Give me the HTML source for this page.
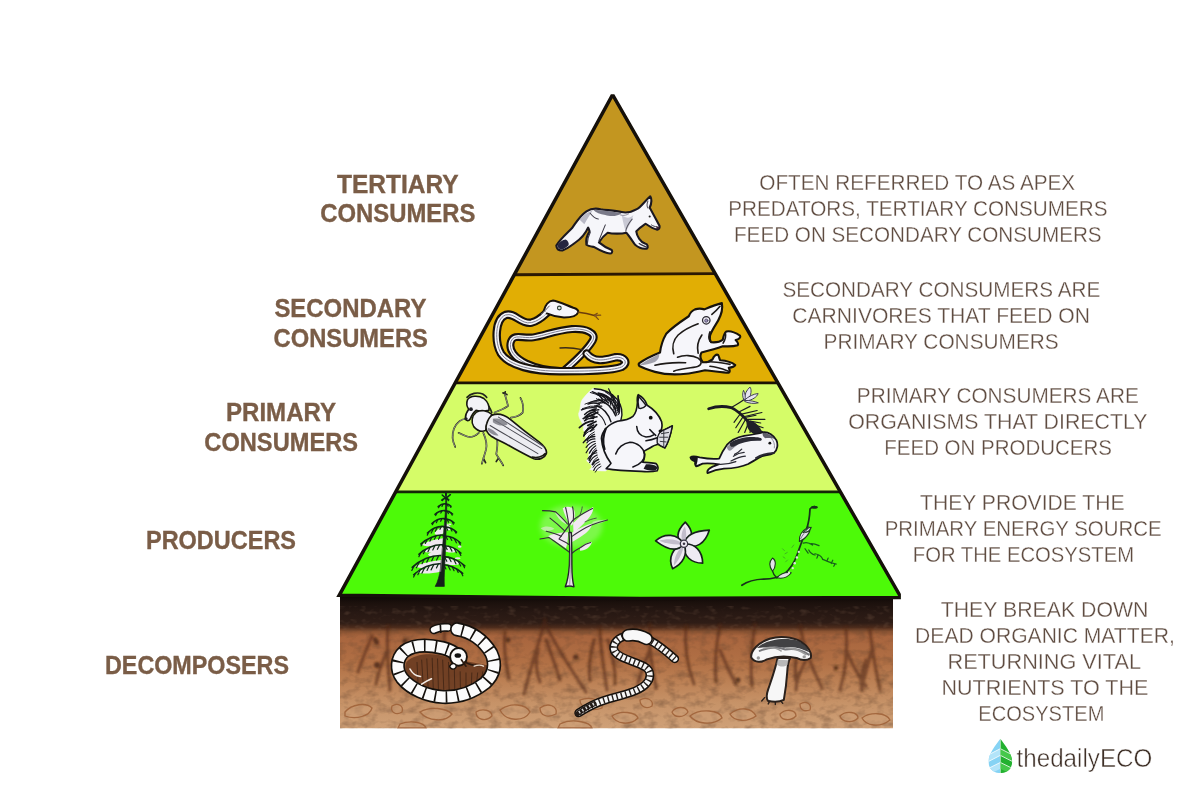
<!DOCTYPE html>
<html><head><meta charset="utf-8"><title>Ecological pyramid</title>
<style>
html,body{margin:0;padding:0;background:#fff;}
body{width:1200px;height:800px;overflow:hidden;font-family:"Liberation Sans",sans-serif;}
svg{display:block;}
</style></head><body>
<svg width="1200" height="800" viewBox="0 0 1200 800">
<defs>
<linearGradient id="soilg" x1="0" y1="0" x2="0" y2="1">
<stop offset="0" stop-color="#0e0806"/>
<stop offset="0.05" stop-color="#1c110d"/>
<stop offset="0.12" stop-color="#271813"/>
<stop offset="0.20" stop-color="#2f1d16"/>
<stop offset="0.235" stop-color="#4d2c1c"/>
<stop offset="0.265" stop-color="#8a5332"/>
<stop offset="0.30" stop-color="#a8653e"/>
<stop offset="0.50" stop-color="#b17045"/>
<stop offset="0.65" stop-color="#bc8155"/>
<stop offset="0.80" stop-color="#c69267"/>
<stop offset="1" stop-color="#cfa178"/>
</linearGradient>
<filter id="soilnoise" x="0" y="0" width="100%" height="100%">
<feTurbulence type="fractalNoise" baseFrequency="0.09 0.14" numOctaves="3" seed="7" result="n"/>
<feColorMatrix in="n" type="matrix" values="0 0 0 0 0.13  0 0 0 0 0.06  0 0 0 0 0.03  0 0 0 -2.2 1.25"/>
</filter>
<filter id="blur1"><feGaussianBlur stdDeviation="1.1"/></filter>
<clipPath id="soilclip"><rect x="340" y="594" width="553" height="134.5"/></clipPath>
<path id="leafshape" d="M160,55 C130,95 85,150 85,200 C85,245 118,272 160,272 C202,272 235,245 235,200 C235,150 190,95 160,55 Z"/>
<clipPath id="leafL"><rect x="60" y="40" width="98.5" height="250"/></clipPath>
<clipPath id="leafR"><rect x="161.5" y="40" width="100" height="250"/></clipPath>
<clipPath id="leafC"><use href="#leafshape"/></clipPath>
<filter id="blur8" x="-30%" y="-30%" width="160%" height="160%"><feGaussianBlur stdDeviation="22"/></filter>
<filter id="soilnoise2" x="0" y="0" width="100%" height="100%">
<feTurbulence type="fractalNoise" baseFrequency="0.12 0.2" numOctaves="2" seed="3" result="n"/>
<feColorMatrix in="n" type="matrix" values="0 0 0 0 0.28  0 0 0 0 0.16  0 0 0 0 0.10  0 0 0 -2.4 1.15"/>
</filter>
<clipPath id="pyrclip"><rect x="336.0" y="93.8" width="564.9" height="507"/></clipPath>

</defs>
<rect width="1200" height="800" fill="#ffffff"/>
<!-- soil block -->
<g id="soil" clip-path="url(#soilclip)">
<rect x="340" y="594" width="553" height="4" fill="#0e0806"/>
<rect x="340" y="596.5" width="553" height="132" fill="url(#soilg)"/>
<rect x="340" y="628" width="553" height="101" filter="url(#soilnoise)" opacity="0.42"/>
<rect x="340" y="606" width="553" height="24" filter="url(#soilnoise2)" opacity="0.28"/>
<!-- roots -->
<g fill="none" stroke="#4f2714" stroke-width="3.4" stroke-linecap="round" opacity="0.55" filter="url(#blur1)">
<path d="M388,626 C386,645 388,665 390,690"/>
<path d="M372,636 C366,650 362,660 358,672"/>
<path d="M505,632 C503,650 506,665 509,678"/>
<path d="M545,620 C540,640 532,662 524,694"/>
<path d="M545,622 C552,640 566,662 586,692"/>
<path d="M546,640 C552,655 556,668 560,680"/>
<path d="M538,650 C535,662 536,672 540,682"/>
<path d="M600,628 C600,648 604,668 607,690"/>
<path d="M608,640 C612,655 616,668 615,684"/>
<path d="M594,640 C590,655 588,668 590,680"/>
<path d="M650,624 C648,645 652,665 656,688"/>
<path d="M686,626 C684,648 688,668 694,684"/>
<path d="M720,625 C716,645 714,662 716,682"/>
<path d="M755,624 C752,645 750,668 752,686"/>
<path d="M800,626 C804,648 812,668 822,688"/>
<path d="M800,640 C796,655 794,668 796,680"/>
<path d="M846,628 C848,650 846,670 840,690"/>
<path d="M870,630 C872,652 876,670 880,690"/>
<path d="M866,660 C862,672 860,680 862,690"/>
<path d="M445,628 C443,640 446,652 450,660"/>
<path d="M846,650 C852,664 858,676 866,686"/>
<path d="M872,650 C868,664 864,676 862,688"/>
<path d="M806,660 C800,672 796,680 796,690"/>
<path d="M720,650 C726,664 730,674 736,684"/>
<path d="M650,650 C644,664 640,674 638,684"/>
<path d="M388,650 C382,662 378,672 376,684"/>
</g>
<g fill="#4a2716" opacity="0.8" filter="url(#blur1)">
<ellipse cx="376" cy="641" rx="2.5" ry="4" transform="rotate(-30 376 641)"/>
<circle cx="377" cy="665" r="3"/><circle cx="405" cy="641" r="2.5"/><circle cx="576" cy="657" r="2.5"/><circle cx="738" cy="680" r="2.5"/><circle cx="575" cy="657" r="2"/><circle cx="836" cy="668" r="2.2"/><circle cx="508" cy="640" r="2.5"/>
</g>
<!-- stones -->
<g fill="#cfa078" fill-opacity="0.5" stroke="#a0633a" stroke-width="1.3" opacity="0.9">
<path d="M345,712 C352,704 366,702 372,708 C370,716 356,720 345,716 Z"/>
<path d="M392,706 C398,702 404,706 402,712 C396,716 390,712 392,706 Z"/>
<path d="M420,712 C430,706 446,708 452,714 C446,722 428,722 420,712 Z"/>
<path d="M476,712 C482,708 492,710 492,716 C486,722 476,720 476,712 Z"/>
<path d="M500,710 C510,702 526,704 530,712 C524,722 506,722 500,710 Z"/>
<path d="M540,708 C548,702 558,706 556,714 C548,718 540,716 540,708 Z"/>
<path d="M580,700 C590,696 604,700 602,708 C592,712 580,708 580,700 Z"/>
<path d="M612,716 C620,710 636,712 638,718 C630,726 616,724 612,716 Z"/>
<path d="M640,700 C646,696 654,700 652,706 C646,710 640,706 640,700 Z"/>
<path d="M672,712 C676,706 686,706 688,712 C684,718 674,718 672,712 Z"/>
<path d="M690,716 C700,708 720,710 722,718 C712,726 696,724 690,716 Z"/>
<path d="M730,714 C740,706 752,708 756,716 C748,722 734,722 730,714 Z"/>
<path d="M780,714 C786,708 796,710 796,716 C790,722 780,720 780,714 Z"/>
<path d="M800,704 C806,700 812,704 810,710 C804,712 800,710 800,704 Z"/>
<path d="M840,716 C846,710 858,712 858,718 C852,724 842,722 840,716 Z"/>
<path d="M862,718 C870,712 886,712 890,720 C880,728 866,726 862,718 Z"/>
<path d="M400,724 C410,720 424,722 426,728 L398,728 Z"/>
<path d="M560,724 C572,718 590,722 592,728 L558,728 Z"/>
</g>
</g>

<!-- pyramid bands -->
<g id="pyramid">
<polygon points="611.9,96.0 613.3,96.0 715.2,273.6 514.3,274.7" fill="#c39620"/>
<polygon points="514.3,274.7 715.2,273.6 777.9,382.9 455.2,382.9" fill="#e1ae04"/>
<polygon points="455.2,382.9 777.9,382.9 840.5,491.9 395.7,491.9" fill="#d5fc68"/>
<polygon points="395.7,491.9 840.5,491.9 901.0,597.5 640.0,598.6 339.2,595.3" fill="#4dfa08"/>
<g stroke-width="2.9" stroke-linecap="butt" fill="none">
<line x1="514.3" y1="274.7" x2="715.2" y2="273.6" stroke="#2b1803"/>
<line x1="455.2" y1="382.9" x2="777.9" y2="382.9" stroke="#1c1204"/>
<line x1="395.7" y1="491.9" x2="840.5" y2="491.9" stroke="#132506"/>
</g>
<polygon points="611.9,96.0 613.3,96.0 901.0,597.5 640.0,598.6 339.2,595.3" fill="none" stroke="#15100a" stroke-width="3.5" stroke-linejoin="miter" stroke-miterlimit="10" clip-path="url(#pyrclip)"/>
</g>

<!-- fox : zoom coords origin (540,180) scale 1/8.571 -->
<g id="fox" transform="translate(540,180) scale(0.11667)" stroke-linejoin="round" stroke-linecap="round">
<path d="M140,562 C165,515 225,462 275,412 C305,372 335,312 398,268 C430,248 470,240 520,250 C570,258 650,262 700,275 C740,285 790,272 830,250 C865,232 890,190 945,140 C960,165 955,205 940,238 C965,280 995,340 1025,395 C1028,415 1015,430 1000,425 C975,420 935,395 905,375 C880,392 850,410 825,440 C830,480 860,530 900,545 C925,550 930,575 915,588 C890,592 850,585 815,555 C790,520 765,480 740,452 C700,462 620,462 580,452 C555,470 520,510 505,535 C540,565 590,590 615,600 C625,615 615,630 600,630 C560,628 500,595 465,575 C440,570 410,565 398,555 C392,520 405,470 425,440 C420,425 416,415 412,408 C392,455 350,505 298,540 C265,565 228,592 192,604 C162,605 142,588 140,562 Z" fill="#f6f6fa" stroke="#1b1820" stroke-width="18"/>
<!-- dark tail tip -->
<path d="M148,560 C165,530 195,512 220,510 C240,520 250,540 245,560 C225,580 205,592 188,596 C165,596 150,582 148,560 Z" fill="#25253f" stroke="none"/>
<!-- grey shading on back -->
<path d="M455,255 C540,258 620,268 700,285 C670,312 600,315 560,300 C515,292 480,282 455,255 Z" fill="#6d6d7c" stroke="none" opacity="0.9"/>
<path d="M340,340 C370,300 410,275 450,262 C430,300 400,340 380,380 Z" fill="#b9b9c6" stroke="none"/>
<path d="M700,300 C740,330 770,330 800,300 C790,350 760,400 735,440 C720,400 710,350 700,300 Z" fill="#c9c9d4" stroke="none"/>
<path d="M430,285 C450,310 470,330 500,335" fill="none" stroke="#44424e" stroke-width="9"/>
<path d="M560,385 C545,420 525,470 505,520" fill="none" stroke="#3a3844" stroke-width="9"/>
<path d="M790,335 C760,370 740,400 735,440" fill="none" stroke="#55535e" stroke-width="9"/>
<path d="M690,300 C720,310 745,300 760,290" fill="none" stroke="#8a8894" stroke-width="8"/>
<path d="M925,180 C915,205 915,225 925,240" fill="none" stroke="#55535e" stroke-width="9"/>
<path d="M955,385 C970,395 985,400 1000,400" fill="none" stroke="#3a3844" stroke-width="8"/>
<circle cx="940" cy="313" r="9" fill="#222"/>
<path d="M1000,400 C1010,395 1022,398 1022,410 C1015,425 1000,425 995,415 Z" fill="#3a2030" stroke="none"/>
<path d="M850,545 C870,560 895,565 912,575" fill="none" stroke="#3a3844" stroke-width="10"/>
<path d="M430,450 C415,480 405,520 405,550" fill="none" stroke="#3a3844" stroke-width="10"/>
</g>

<!-- snake : zoom origin (480,280) scale 1/7.5 -->
<g id="snake" transform="translate(480,280) scale(0.13333)" fill="none" stroke-linecap="round" stroke-linejoin="round">
<!-- inner loop (behind) -->
<path id="snB" d="M640,672 C700,620 800,530 845,455 C880,395 790,362 690,368 C570,378 480,418 400,430 C320,442 255,400 232,462 C212,525 262,585 345,625 C420,660 520,680 600,682"/>
<use href="#snB" stroke="#17110c" stroke-width="60"/>
<use href="#snB" stroke="#f4f4f8" stroke-width="28"/>
<use href="#snB" stroke="#77778a" stroke-width="7"/>
<!-- outer body -->
<path id="snA" d="M545,215 C500,232 470,300 385,320 C305,335 262,242 192,262 C112,292 108,465 158,552 C222,645 400,684 600,684 C800,684 990,682 1062,652 C1118,622 1082,572 1012,580 C940,598 860,625 800,552"/>
<use href="#snA" stroke="#17110c" stroke-width="64"/>
<use href="#snA" stroke="#f4f4f8" stroke-width="32"/>
<use href="#snA" stroke="#77778a" stroke-width="7"/>
<!-- head -->
<path d="M478,232 C488,190 515,156 548,153 C592,160 642,186 700,208 C726,216 740,229 736,242 C728,266 690,281 630,281 C580,278 532,264 500,250 C490,246 482,240 478,232 Z" fill="#f6f6fa" stroke="#17110c" stroke-width="15"/>
<path d="M492,236 C484,248 474,258 462,266" stroke="#f6f6fa" stroke-width="22" stroke-linecap="butt"/>
<path d="M520,195 C500,215 480,240 455,265" stroke="#55505e" stroke-width="7"/>
<circle cx="595" cy="210" r="14" fill="#dfe6e0" stroke="#2a3a30" stroke-width="8"/>
<path d="M738,242 C780,246 825,256 865,268" stroke="#6a3c0c" stroke-width="11"/>
<path d="M860,266 L905,264 M862,268 L888,296 M858,262 L880,250" stroke="#7a4a14" stroke-width="9"/>
<circle cx="868" cy="268" r="9" fill="#8a5a24"/>
<path d="M600,510 C650,505 710,510 765,522" stroke="#3a2a18" stroke-width="10"/>
</g>

<!-- frog : zoom origin (630,285) scale 1/8 -->
<g id="frog" transform="translate(630,285) scale(0.125)" stroke-linejoin="round" stroke-linecap="round">
<path d="M735,145 C742,180 735,230 705,285 C685,320 655,360 640,405 C636,425 640,445 648,458 C690,462 725,452 742,438 C748,410 752,385 770,372 C800,365 850,385 880,405 C890,420 870,435 845,440 C860,455 870,470 862,482 C830,492 780,492 742,490 C700,505 630,525 572,540 C560,560 560,590 582,618 C610,620 640,612 660,595 C670,570 690,550 705,560 C715,575 715,595 722,602 C760,605 810,615 842,640 C835,655 810,660 790,662 C800,680 800,695 790,702 C740,700 680,690 600,682 C540,695 480,708 450,710 C380,718 290,720 200,695 C150,680 100,662 75,648 C68,640 68,632 75,625 C110,600 190,560 240,540 C245,500 255,450 290,390 C330,345 410,290 470,250 C480,225 495,205 520,195 C550,185 580,190 595,195 C630,180 690,155 735,145 Z" fill="#f6f6fa" stroke="#17130c" stroke-width="17"/>
<!-- inner lines -->
<g fill="none" stroke="#1d1a18" stroke-width="13">
<path d="M350,550 C335,500 345,440 385,400 C430,360 490,330 545,310"/>
<path d="M380,578 C430,558 500,560 545,585 C580,610 575,640 540,652 C480,668 400,668 350,690"/>
<path d="M200,642 C280,622 360,618 445,622"/>
<path d="M545,545 C535,500 540,450 575,400"/>
<path d="M655,235 C680,215 700,195 720,170"/>
<path d="M640,375 C630,400 628,430 640,450"/>
<path d="M620,615 C680,610 740,625 800,635"/>
<path d="M640,650 C700,655 750,675 790,690"/>
<path d="M762,380 C770,410 760,440 745,465"/>
</g>
<circle cx="610" cy="282" r="30" fill="#ecebf3" stroke="#2a2830" stroke-width="10"/>
<circle cx="610" cy="285" r="13" fill="#9b90b8" stroke="#4a4560" stroke-width="6"/>
<path d="M75,640 C120,610 180,580 235,548 C235,580 225,600 200,615 C160,630 120,640 75,640 Z" fill="#8d8d9a" stroke="none" opacity="0.8"/>
</g>

<!-- beetle : zoom origin (440,385) scale 1/8.89 -->
<g id="beetle" transform="translate(440,385) scale(0.1125)" stroke-linejoin="round" stroke-linecap="round">
<!-- legs -->
<g fill="none" stroke="#23251e" stroke-width="15">
<path d="M235,300 C190,300 150,335 125,385 C105,440 110,500 135,550"/>
<path d="M345,425 C310,455 270,470 235,455 C205,445 185,435 165,425"/>
<path d="M385,425 C405,470 420,520 410,570 C400,610 385,650 372,700 M385,650 L405,690"/>
<path d="M508,495 C515,540 505,580 500,615 C520,650 545,680 562,715 M520,650 L500,680"/>
<path d="M485,245 C530,225 575,210 605,185 C595,150 585,110 575,78 M560,70 L595,85 M575,78 L580,60"/>
<path d="M630,290 C670,285 710,270 735,245 C745,200 740,160 715,115"/>
<path d="M240,110 C270,75 330,60 380,80 C400,92 410,100 415,110"/>
<path d="M330,110 C370,120 410,150 440,200 C450,215 455,230 460,245"/>
</g>
<g stroke="#dfe6c9" stroke-width="5" fill="none"><path d="M235,300 C190,300 150,335 125,385 C105,440 110,500 132,545"/><path d="M385,425 C405,470 420,520 410,570 C400,610 385,650 374,695"/><path d="M508,495 C515,540 505,580 500,615 C520,650 545,680 560,710"/><path d="M485,245 C530,225 575,210 605,185 C595,150 585,110 577,82"/><path d="M630,290 C670,285 710,270 735,245 C745,200 740,160 717,120"/><path d="M345,425 C310,455 270,470 235,455 C205,445 185,435 168,427"/></g>
<!-- head -->
<path d="M245,130 C270,95 340,90 390,120 C425,150 440,190 435,225 C400,235 360,235 320,225 C300,240 280,270 270,300 C255,325 235,322 225,300 C225,270 240,235 255,215 C238,190 235,155 245,130 Z" fill="#f3f3f7" stroke="#17170f" stroke-width="14"/>
<circle cx="275" cy="215" r="17" fill="#1c1c22"/>
<circle cx="232" cy="300" r="14" fill="#1c1c22"/>
<!-- thorax -->
<path d="M325,240 C360,220 420,222 462,262 C440,300 420,350 405,405 C370,420 330,405 300,370 C275,335 280,275 325,240 Z" fill="#f1f1f6" stroke="#17170f" stroke-width="14"/>
<!-- elytra -->
<path d="M462,268 C510,250 570,262 625,305 C690,360 790,440 880,505 C925,540 955,570 945,610 C930,650 880,668 835,655 C770,625 690,580 620,542 C560,510 500,482 455,455 C415,425 400,385 415,345 C425,310 440,285 462,268 Z" fill="#ededf2" stroke="#17170f" stroke-width="15"/>
<g fill="none" stroke="#4a4a52" stroke-width="9">
<path d="M480,310 C600,380 760,480 905,565"/>
<path d="M445,360 C560,430 720,520 870,610"/>
<path d="M520,285 C640,360 800,470 925,550"/>
</g>
<path d="M470,300 C520,290 580,310 600,350 C560,370 510,360 470,330 Z" fill="#77777f" opacity="0.8"/>
<path d="M425,380 C460,390 500,420 520,450 C480,450 440,430 425,400 Z" fill="#77777f" opacity="0.8"/>
<path d="M820,640 C860,650 910,640 935,610" fill="none" stroke="#17170f" stroke-width="14"/>
</g>

<!-- squirrel : zoom origin (570,385) scale 1/8.425 -->
<g id="squirrel" transform="translate(570,385) scale(0.1187)" stroke-linejoin="round" stroke-linecap="round">
<!-- tail -->
<path d="M195,30 C260,25 340,55 390,110 C430,160 450,230 430,300 C400,310 340,330 300,360 C265,410 255,480 280,545 C300,600 320,640 345,660 C330,700 310,720 300,725 C250,725 200,720 165,712 C200,690 180,670 140,640 C175,600 150,550 150,500 C120,460 140,400 110,380 C130,330 70,300 72,240 C95,200 80,150 105,120 C140,80 160,50 195,30 Z" fill="#f4f4f8" stroke="#f4f4f8" stroke-width="4"/>
<!-- tail hatching -->
<g fill="none" stroke="#15151a" stroke-width="11" stroke-linecap="round">
<path d="M261,685 Q227,699 213,734" stroke-width="8"/>
<path d="M254,666 Q215,681 200,720" stroke-width="10"/>
<path d="M247,646 Q209,658 194,693" stroke-width="8"/>
<path d="M240,627 Q206,638 191,671" stroke-width="14"/>
<path d="M233,607 Q198,626 184,668" stroke-width="8"/>
<path d="M229,590 Q187,608 165,653" stroke-width="10"/>
<path d="M226,571 Q177,580 150,623" stroke-width="10"/>
<path d="M223,551 Q183,579 162,633" stroke-width="14"/>
<path d="M220,531 Q190,554 174,597" stroke-width="8"/>
<path d="M217,512 Q182,532 163,575" stroke-width="10"/>
<path d="M214,493 Q165,516 136,571" stroke-width="10"/>
<path d="M212,474 Q164,483 136,526" stroke-width="10"/>
<path d="M210,454 Q167,455 142,487" stroke-width="10"/>
<path d="M209,434 Q148,438 112,486" stroke-width="12"/>
<path d="M207,415 Q167,429 144,470" stroke-width="10"/>
<path d="M205,395 Q160,414 134,462" stroke-width="8"/>
<path d="M203,376 Q147,385 114,434" stroke-width="8"/>
<path d="M201,356 Q151,362 122,402" stroke-width="14"/>
<path d="M199,337 Q147,364 117,426" stroke-width="14"/>
<path d="M224,334 l-49,54" stroke-width="14"/>
<path d="M197,317 Q147,349 118,413" stroke-width="8"/>
<path d="M195,302 Q131,308 79,359" stroke-width="14"/>
<path d="M219,307 l-70,34" stroke-width="14"/>
<path d="M199,282 Q156,275 122,302" stroke-width="12"/>
<path d="M203,263 Q152,252 111,283" stroke-width="14"/>
<path d="M227,268 l-55,12" stroke-width="14"/>
<path d="M207,243 Q164,252 129,289" stroke-width="10"/>
<path d="M211,224 Q166,231 129,269" stroke-width="14"/>
<path d="M235,228 l-49,27" stroke-width="14"/>
<path d="M214,204 Q164,209 123,249" stroke-width="12"/>
<path d="M223,194 Q164,182 97,210" stroke-width="12"/>
<path d="M243,209 l-75,9" stroke-width="12"/>
<path d="M235,179 Q173,168 104,199" stroke-width="8"/>
<path d="M247,163 Q204,142 151,161" stroke-width="12"/>
<path d="M267,178 l-58,-1" stroke-width="12"/>
<path d="M258,147 Q201,126 126,161" stroke-width="8"/>
<path d="M270,132 Q227,117 167,148" stroke-width="10"/>
<path d="M290,147 l-62,10" stroke-width="10"/>
<path d="M275,133 Q262,82 187,56" stroke-width="12"/>
<path d="M291,131 Q263,85 171,63" stroke-width="8"/>
<path d="M294,156 l-72,-41" stroke-width="8"/>
<path d="M306,129 Q297,96 238,80" stroke-width="14"/>
<path d="M322,127 Q316,96 260,81" stroke-width="12"/>
<path d="M325,152 l-37,-28" stroke-width="12"/>
<path d="M338,125 Q323,85 237,68" stroke-width="14"/>
<path d="M338,129 Q361,110 336,56" stroke-width="8"/>
<path d="M320,147 l-1,-44" stroke-width="8"/>
<path d="M350,141 Q367,108 325,32" stroke-width="10"/>
<path d="M361,153 Q379,133 350,81" stroke-width="10"/>
<path d="M344,170 l-7,-43" stroke-width="10"/>
<path d="M373,164 Q394,143 359,80" stroke-width="8"/>
<path d="M385,176 Q396,157 365,105" stroke-width="8"/>
<path d="M367,194 l-12,-43" stroke-width="8"/>
<path d="M389,184 Q411,168 405,92" stroke-width="14"/>
<path d="M394,200 Q416,189 411,118" stroke-width="10"/>
<path d="M370,207 l11,-49" stroke-width="10"/>
<path d="M398,215 Q418,204 412,135" stroke-width="14"/>
<path d="M403,231 Q420,219 413,154" stroke-width="12"/>
<path d="M379,238 l6,-46" stroke-width="12"/>
<path d="M408,247 Q423,237 417,180" stroke-width="10"/>
</g>
<g fill="none" stroke="#15151a" stroke-width="12" stroke-linecap="round">
<path d="M205,32 C270,35 345,65 392,115 C432,165 448,235 428,300"/>
<path d="M255,75 C320,90 375,130 405,200"/>
<path d="M240,120 C300,140 350,180 385,260"/>
<path d="M225,175 C280,195 320,235 345,310"/>
<path d="M300,60 C345,85 385,125 410,175" stroke-width="9"/>
<path d="M215,230 C255,250 285,285 300,335" stroke-width="9"/>
<path d="M320,120 C355,150 385,200 395,255" stroke-width="9"/>
</g>
<!-- body -->
<path d="M345,660 C300,600 270,520 265,450 C270,390 320,330 400,305 C450,300 500,290 530,265 C555,240 565,200 568,150 C565,120 568,95 575,82 C610,100 640,140 650,170 C700,200 750,250 772,310 C778,340 775,370 762,392 C790,380 830,360 862,345 C850,410 830,480 800,530 C780,525 760,512 742,500 C725,505 705,510 690,520 C670,535 640,545 622,560 C632,590 632,620 612,650 C650,655 700,655 725,662 C745,680 745,710 735,722 C700,732 640,732 600,728 C500,725 400,722 305,705 C320,690 335,675 345,660 Z" fill="#f6f6fa" stroke="#15151a" stroke-width="14"/>
<g fill="none" stroke="#15151a" stroke-width="13">
<path d="M385,582 C400,530 450,490 505,482 C570,485 620,530 630,585 C628,630 590,670 530,690"/>
<path d="M562,350 C565,400 590,430 640,438 C670,438 690,430 705,420"/>
<path d="M672,375 C690,395 705,410 722,425"/>
<path d="M640,470 C680,465 710,455 735,445"/>
<path d="M300,370 C280,420 270,480 290,540" stroke-width="20"/>
</g>
<!-- ear -->
<path d="M578,95 C600,120 625,150 640,172 C620,195 595,200 580,195 C572,165 572,125 578,95 Z" fill="#e7e7ef" stroke="#15151a" stroke-width="12"/>
<circle cx="680" cy="275" r="16" fill="#111"/>
<!-- nut -->
<path d="M762,392 C795,378 830,360 862,345 C850,410 830,480 800,530 C775,520 750,505 735,490 C730,455 740,420 762,392 Z" fill="#dedee6" stroke="#15151a" stroke-width="11"/>
<path d="M770,410 L830,400 M755,440 L825,440 M760,475 L810,480 M790,385 L790,520" stroke="#33333c" stroke-width="8" fill="none"/>
<circle cx="760" cy="388" r="14" fill="#111"/>
<path d="M640,668 C680,668 715,672 735,690 C735,712 720,722 700,722 C670,722 640,715 620,705 Z" fill="#1c1c22"/>
</g>

<!-- bird : zoom origin (680,385) scale 1/8.425 -->
<g id="bird" transform="translate(680,385) scale(0.1187)" stroke-linejoin="round" stroke-linecap="round">
<!-- twig & needles -->
<g fill="none" stroke="#1a1a22">
<path d="M242,200 C300,180 380,178 430,190 C490,215 540,270 585,320 C620,355 660,385 700,405" stroke-width="24"/>
<path d="M440,185 C475,165 510,145 540,122" stroke-width="10"/>
<g stroke-width="10">
<path d="M500,225 L590,180"/><path d="M520,245 L650,215"/><path d="M545,265 L690,232"/><path d="M570,290 L715,290"/>
<path d="M510,240 L455,315"/><path d="M535,262 L470,360"/><path d="M555,285 L490,400"/><path d="M580,310 L545,400"/><path d="M600,330 L590,400"/><path d="M620,345 L640,380"/>
<path d="M560,270 L640,255"/><path d="M590,305 L680,320"/><path d="M610,330 L700,360"/>
</g>
</g>
<path d="M560,300 C600,290 650,320 680,370 C690,400 660,420 620,410 C580,395 555,350 560,300 Z" fill="#1f1f28"/>
<!-- flower -->
<g fill="#e8e6f2" stroke="#3a3850" stroke-width="8">
<path d="M540,122 C545,80 560,40 590,18 C605,40 600,80 580,120 Z"/>
<path d="M545,125 C580,95 620,75 658,72 C650,100 610,125 565,135 Z"/>
<path d="M550,130 C590,130 630,138 660,150 C625,160 580,155 548,140 Z"/>
<path d="M538,125 C525,100 525,70 535,45 C550,70 552,100 548,122 Z"/>
</g>
<!-- body -->
<path d="M88,610 C100,598 130,600 165,610 C220,620 290,625 330,620 C345,585 365,545 395,505 C430,465 480,440 540,428 C600,420 660,410 705,398 C745,395 790,425 812,465 C828,500 822,545 792,572 C760,590 720,592 690,600 C660,615 620,640 575,665 C520,690 440,702 370,705 C320,710 270,725 232,742 C225,725 240,705 275,688 C300,678 320,672 330,668 C290,662 230,660 190,662 C170,672 150,682 135,685 C125,670 125,655 130,645 C110,640 92,628 88,610 Z" fill="#f4f4f8" stroke="#15151a" stroke-width="15"/>
<!-- shading -->
<path d="M395,520 C440,480 500,455 560,448 C520,480 470,510 430,550 C415,560 395,545 395,520 Z" fill="#6a6a78" opacity="0.7"/>
<path d="M700,400 C740,405 775,425 800,455 C780,450 750,445 720,448 C700,440 690,420 700,400 Z" fill="#3a3a46" opacity="0.8"/>
<path d="M420,490 C480,450 560,435 640,440 C690,440 700,460 680,470 C600,465 520,480 450,520 C430,525 415,510 420,490 Z" fill="#2a2a34"/>
<g fill="none" stroke="#2a2a34" stroke-width="11">
<path d="M450,600 C480,580 510,570 540,568"/>
<path d="M430,640 C470,620 510,605 550,600"/>
<path d="M330,668 C380,670 430,660 470,645"/>
<path d="M520,540 C500,560 480,575 460,585"/>
<path d="M640,615 C680,590 730,575 790,572" stroke-width="16"/>
</g>
<circle cx="757" cy="490" r="12" fill="#111"/>
<path d="M90,610 C105,600 130,602 150,608 C150,630 145,660 135,684 C125,670 125,655 130,645 C110,640 95,628 90,610 Z" fill="#15151a"/>
<path d="M770,450 C790,470 800,500 795,530" fill="none" stroke="#8a8a98" stroke-width="8"/>
</g>

<!-- pine : zoom origin (400,490) scale 1/7.625 -->
<g id="pine" transform="translate(400,490) scale(0.13115)" stroke-linejoin="round" stroke-linecap="round">
<g fill="#efe8f0" stroke="none">
<path d="M333,280 C305,287 277,307 263,327 C268,345 298,350 333,327 Z"/>
<path d="M328,367 C264,374 200,394 168,414 C173,432 248,437 328,414 Z"/>
<path d="M325,415 C265,422 205,442 175,462 C180,480 250,485 325,462 Z"/>
<path d="M323,445 C279,452 235,472 213,492 C218,510 268,515 323,492 Z"/>
<path d="M317,533 C237,540 157,560 117,580 C122,598 217,603 317,580 Z"/>
<path d="M314,575 C240,582 166,602 129,622 C134,640 222,645 314,622 Z"/>
<path d="M336,245 C358,252 380,272 391,292 C386,310 363,315 336,292 Z"/>
<path d="M325,415 C369,422 413,442 435,462 C430,480 380,485 325,462 Z"/>
<path d="M319,510 C375,517 431,537 459,557 C454,575 389,580 319,557 Z"/>
</g>
<g fill="none" stroke="#0f2a18" stroke-width="12">
<path d="M349,65 C338,64 326,69 319,77"/>
<path d="M331,69 l-7,13" stroke-width="9"/>
<path d="M349,66 C357,65 366,70 372,75"/>
<path d="M363,69 l6,13" stroke-width="9"/>
<path d="M346,105 C327,104 305,114 291,127"/>
<path d="M329,107 l-9,18" stroke-width="9"/>
<path d="M302,119 l-8,16" stroke-width="9"/>
<path d="M346,107 C361,106 378,114 389,124"/>
<path d="M359,109 l8,15" stroke-width="9"/>
<path d="M380,118 l8,15" stroke-width="9"/>
<path d="M342,156 C316,155 286,168 267,186"/>
<path d="M320,159 l-9,17" stroke-width="9"/>
<path d="M282,176 l-10,19" stroke-width="9"/>
<path d="M342,159 C363,158 386,169 401,183"/>
<path d="M360,162 l9,18" stroke-width="9"/>
<path d="M389,174 l9,18" stroke-width="9"/>
<path d="M338,218 C305,216 267,233 243,256"/>
<path d="M319,219 l-9,19" stroke-width="9"/>
<path d="M287,229 l-10,20" stroke-width="9"/>
<path d="M256,246 l-9,19" stroke-width="9"/>
<path d="M338,222 C364,220 394,234 412,251"/>
<path d="M360,224 l10,21" stroke-width="9"/>
<path d="M397,241 l10,20" stroke-width="9"/>
<path d="M334,278 C290,275 240,298 209,328"/>
<path d="M315,279 l-10,21" stroke-width="9"/>
<path d="M284,286 l-15,29" stroke-width="9"/>
<path d="M253,299 l-15,29" stroke-width="9"/>
<path d="M221,318 l-13,26" stroke-width="9"/>
<path d="M334,282 C368,280 407,298 431,321"/>
<path d="M353,284 l11,23" stroke-width="9"/>
<path d="M386,294 l10,19" stroke-width="9"/>
<path d="M418,312 l9,18" stroke-width="9"/>
<path d="M329,344 C269,341 201,372 159,412"/>
<path d="M309,345 l-15,31" stroke-width="9"/>
<path d="M275,351 l-13,25" stroke-width="9"/>
<path d="M241,363 l-13,27" stroke-width="9"/>
<path d="M207,380 l-14,27" stroke-width="9"/>
<path d="M173,402 l-12,25" stroke-width="9"/>
<path d="M329,351 C375,348 428,372 462,404"/>
<path d="M349,352 l13,26" stroke-width="9"/>
<path d="M382,360 l13,25" stroke-width="9"/>
<path d="M415,374 l15,29" stroke-width="9"/>
<path d="M448,394 l13,26" stroke-width="9"/>
<path d="M324,418 C261,414 189,446 144,490"/>
<path d="M302,419 l-17,33" stroke-width="9"/>
<path d="M266,425 l-16,32" stroke-width="9"/>
<path d="M230,437 l-17,34" stroke-width="9"/>
<path d="M194,455 l-16,31" stroke-width="9"/>
<path d="M158,479 l-14,29" stroke-width="9"/>
<path d="M324,425 C373,422 429,447 464,481"/>
<path d="M345,426 l16,32" stroke-width="9"/>
<path d="M380,434 l16,32" stroke-width="9"/>
<path d="M415,448 l15,30" stroke-width="9"/>
<path d="M450,470 l14,29" stroke-width="9"/>
<path d="M318,500 C239,495 149,536 93,590"/>
<path d="M296,500 l-17,34" stroke-width="9"/>
<path d="M258,506 l-16,33" stroke-width="9"/>
<path d="M221,516 l-17,34" stroke-width="9"/>
<path d="M183,532 l-15,30" stroke-width="9"/>
<path d="M146,552 l-21,41" stroke-width="9"/>
<path d="M108,578 l-18,35" stroke-width="9"/>
<path d="M318,508 C380,505 450,536 494,579"/>
<path d="M339,509 l18,35" stroke-width="9"/>
<path d="M374,516 l15,30" stroke-width="9"/>
<path d="M409,527 l18,37" stroke-width="9"/>
<path d="M445,545 l18,35" stroke-width="9"/>
<path d="M480,568 l12,25" stroke-width="9"/>
<path d="M314,562 C241,558 157,596 104,646"/>
<path d="M293,563 l-15,31" stroke-width="9"/>
<path d="M258,568 l-21,41" stroke-width="9"/>
<path d="M223,578 l-17,35" stroke-width="9"/>
<path d="M188,592 l-21,42" stroke-width="9"/>
<path d="M153,612 l-17,34" stroke-width="9"/>
<path d="M118,635 l-14,29" stroke-width="9"/>
<path d="M314,571 C372,567 437,597 478,636"/>
<path d="M334,571 l16,31" stroke-width="9"/>
<path d="M367,577 l16,33" stroke-width="9"/>
<path d="M399,588 l13,27" stroke-width="9"/>
<path d="M432,604 l12,25" stroke-width="9"/>
<path d="M465,626 l14,28" stroke-width="9"/>
<path d="M346,60 L322,38 M352,62 L384,36 M350,40 L350,18"/>
</g>
<path d="M347,20 C352,100 345,200 335,300 C328,400 318,520 308,600 C302,650 288,700 268,735 L338,735 C336,690 338,640 340,600 C345,500 350,400 352,300 C357,200 358,100 353,20 Z" fill="#14201a" stroke="#14201a" stroke-width="5"/>
<path d="M322,440 C318,500 314,560 310,620" fill="none" stroke="#9a8a98" stroke-width="6"/>
<g fill="#e9dfe9"><ellipse cx="372" cy="465" rx="16" ry="9"/><ellipse cx="455" cy="432" rx="14" ry="8"/><ellipse cx="440" cy="520" rx="22" ry="8"/><ellipse cx="380" cy="262" rx="12" ry="7"/></g>
</g>

<!-- bare tree : zoom origin (530,495) scale 1/8 -->
<g id="tree" transform="translate(530,495) scale(0.125)" stroke-linejoin="round" stroke-linecap="round">
<!-- faint halo -->
<g fill="#e8f4e0" opacity="0.3" filter="url(#blur8)">
<ellipse cx="330" cy="250" rx="250" ry="170"/>
</g>
<!-- pale crown patches -->
<g fill="#f1e8f1" stroke="none">
<path d="M262,105 C300,85 340,95 355,125 C365,170 352,215 335,245 C305,220 280,170 262,105 Z"/>
<path d="M345,225 C395,175 450,125 505,95 C512,130 482,175 442,215 C410,248 380,275 348,305 Z"/>
<path d="M338,300 C390,268 452,238 500,228 C485,282 430,325 338,375 Z"/>
<path d="M145,328 C200,305 262,296 305,298 C305,340 298,392 288,425 C240,395 190,362 145,328 Z"/>
<path d="M400,425 C428,392 465,376 495,376 C484,418 446,445 400,445 Z"/>
<path d="M200,140 C235,150 270,190 295,235 C260,225 225,190 200,140 Z" opacity="0.7"/>
<path d="M85,265 C120,245 165,248 195,270 C160,292 118,296 85,265 Z" opacity="0.55"/>
<path d="M500,215 C540,200 585,195 620,200 C585,222 540,235 500,232 Z" opacity="0.55"/>
</g>
<!-- branches -->
<g fill="none" stroke="#352c3c" stroke-width="9">
<path d="M318,460 C260,420 200,370 150,340 C125,345 100,350 80,352"/>
<path d="M318,400 C290,380 260,365 232,352 C262,310 300,262 340,205 C390,165 450,135 500,108"/>
<path d="M330,470 C360,445 385,430 405,420 C430,400 460,385 485,380"/>
<path d="M330,335 C380,300 440,262 492,240 C540,222 580,210 620,200"/>
<path d="M100,125 C140,125 175,128 205,135 C240,165 272,200 300,232"/>
<path d="M160,185 C200,215 240,250 275,285"/>
<path d="M318,300 C310,230 300,160 285,100"/>
<path d="M345,210 C350,170 350,130 340,95"/>
<path d="M130,290 C170,300 210,310 250,330"/>
<path d="M400,160 C410,135 415,115 418,95" stroke-width="6"/>
<path d="M440,215 C470,200 500,190 530,185" stroke-width="6"/>
</g>
<!-- trunk -->
<path d="M312,300 C318,380 320,470 315,560 C310,630 300,690 282,735 C300,727 330,727 352,735 C340,690 335,630 335,560 C335,470 335,380 330,300 Z" fill="#ece4ec" stroke="#231f2a" stroke-width="11"/>
<path d="M322,470 C324,550 322,640 318,720" fill="none" stroke="#8a8290" stroke-width="6"/>
</g>

<!-- flower : zoom origin (640,495) scale 1/5.4545 -->
<g id="flower" transform="translate(640,495) scale(0.18333)" stroke-linejoin="round" stroke-linecap="round">
<g fill="#efebf3" stroke="#15201a" stroke-width="9">
<path d="M240,268 C195,245 195,200 247,148 C292,195 295,240 240,268 Z"/>
<path d="M240,268 C250,215 300,195 378,192 C355,265 305,300 240,268 Z"/>
<path d="M240,268 C300,262 340,305 342,372 C280,372 235,335 240,268 Z"/>
<path d="M240,268 C262,325 235,375 178,402 C150,340 180,285 240,268 Z"/>
<path d="M240,268 C205,312 150,300 85,250 C135,205 205,210 240,268 Z"/>
</g>
<g fill="#b8b2c2" stroke="none" opacity="0.8">
<path d="M240,268 C220,240 222,205 245,170 C255,205 255,240 240,268 Z"/>
<path d="M240,268 C235,310 215,350 185,385 C185,340 205,300 240,268 Z"/>
<path d="M240,268 C200,275 150,268 105,250 C150,235 205,240 240,268 Z"/>
</g>
<circle cx="240" cy="266" r="20" fill="#efebf3" stroke="#3a3645" stroke-width="7"/>
<circle cx="240" cy="266" r="7" fill="#3a3645"/>
</g>

<!-- herb : zoom origin (735,495) scale 1/8 -->
<g id="herb" transform="translate(735,495) scale(0.125)" stroke-linejoin="round" stroke-linecap="round">
<path d="M55,722 C100,690 160,675 230,672 C290,672 340,668 390,635 C440,595 478,535 500,470 C520,410 545,345 570,280 C590,225 598,160 600,112 C612,95 635,90 655,98" fill="none" stroke="#17331a" stroke-width="14"/>
<path d="M300,608 C305,630 318,650 335,664" fill="none" stroke="#17331a" stroke-width="10"/>
<ellipse cx="635" cy="98" rx="24" ry="12" fill="#17331a"/>
<g fill="#e4e2ea" stroke="#1d3a20" stroke-width="9">
<path d="M300,610 C275,575 270,535 300,505 C330,520 330,575 300,610 Z"/>
<path d="M335,662 C365,630 410,615 450,622 C425,655 380,672 335,662 Z"/>
<path d="M515,372 C510,330 535,285 590,255 C615,275 585,340 515,372 Z"/>
<path d="M548,300 C560,280 585,262 610,258 C600,285 580,302 548,300 Z"/>
</g>
<path d="M525,350 C540,320 560,295 585,270" stroke="#6a6880" stroke-width="7" fill="none"/>
<g fill="#dfe6df" stroke="none"><circle cx="478" cy="545" r="10"/><circle cx="495" cy="500" r="10"/><circle cx="462" cy="585" r="9"/><circle cx="510" cy="455" r="9"/><circle cx="432" cy="620" r="9"/></g>
<g fill="none" stroke="#17601c" stroke-width="10">
<path d="M545,385 C570,375 600,385 620,400 M600,390 C625,385 650,395 672,405"/>
<path d="M590,440 C600,460 615,475 640,480 M560,430 L585,465"/>
<path d="M640,470 C670,475 690,490 700,510 M665,478 L655,505"/>
<path d="M700,515 C730,525 770,545 810,552 M735,530 L745,505 M770,548 L782,522 M800,552 L790,570"/>
</g>
<g fill="none" stroke="#3a9a2a" stroke-width="7" opacity="0.8">
<path d="M380,430 L395,445 M400,470 L418,460 M385,495 L400,505 M420,520 L405,535 M470,400 L455,420"/>
</g>
</g>

<!-- millipede : zoom origin (340,592) scale 1/4.2857 -->
<g id="millipede" transform="translate(340,592) scale(0.23333)" stroke-linejoin="round" stroke-linecap="butt" fill="none">
<!-- dark centre (legs) -->
<path d="M285,300 C320,262 400,258 460,280 C520,298 600,305 645,318 C648,372 595,418 520,432 C448,442 372,432 322,400 C285,372 272,332 285,300 Z" fill="#6a3b20" opacity="0.9"/>
<g stroke="#3a2012" stroke-width="4" opacity="0.8">
<path d="M330,300 L335,400 M350,290 L357,410 M372,285 L378,418 M395,282 L400,422 M418,285 L422,425 M440,290 L445,428 M465,300 L468,428 M490,330 L492,426 M515,340 L516,422 M540,345 L540,415 M565,345 L563,405 M590,345 L585,395 M612,340 L606,380"/>
</g>
<path id="mlA" d="M402,162 C420,152 440,150 462,152"/>
<path id="mlB" d="M502,160 C560,168 615,205 648,262 C670,310 662,352 622,390 C574,428 508,452 442,450 C374,446 306,418 266,370 C238,332 242,284 276,254 C316,224 382,226 440,240 C468,247 488,258 503,272"/>
<g stroke-linecap="round">
<use href="#mlA" stroke="#14100c" stroke-width="38"/><use href="#mlA" stroke="#fbfbfb" stroke-width="25"/>
<use href="#mlB" stroke="#14100c" stroke-width="61"/><use href="#mlB" stroke="#fbfbfb" stroke-width="47"/>
</g>
<use href="#mlB" stroke="#14100c" stroke-width="49" stroke-dasharray="7 41" stroke-dashoffset="-20"/>
<path d="M430,140 L432,176" stroke="#14100c" stroke-width="7"/>
<!-- head -->
<ellipse cx="508" cy="278" rx="36" ry="38" fill="#fbfbfb" stroke="#14100c" stroke-width="8"/>
<ellipse cx="505" cy="272" rx="14" ry="10" fill="#111"/>
<path d="M470,318 C480,300 500,305 498,322 C490,335 472,332 470,318 Z" fill="#fbfbfb" stroke="#14100c" stroke-width="6"/>
<path d="M535,300 C555,312 575,316 600,315 M520,290 L540,318" stroke="#2a1a10" stroke-width="7" stroke-linecap="round"/>
<path d="M575,318 C590,312 605,312 615,318" stroke="#e8d8c8" stroke-width="6" stroke-linecap="round"/>
<path d="M300,330 C310,350 325,360 345,362 M350,395 C365,385 378,378 392,372" stroke="#f4eee8" stroke-width="7" stroke-linecap="round"/>
</g>

<!-- worm : zoom origin (560,590) scale 1/3.529 -->
<g id="worm" transform="translate(560,590) scale(0.28333)" stroke-linejoin="round" fill="none">
<path id="wmA" d="M405,243 C385,225 350,195 318,178 C295,165 265,158 240,162 C205,165 182,190 192,215 C205,240 260,250 298,270 C325,285 322,315 300,335 C270,362 215,372 160,388 C120,400 90,418 66,434"/>
<g stroke-linecap="round">
<use href="#wmA" stroke="#15100c" stroke-width="31"/>
<use href="#wmA" stroke="#f6f6f6" stroke-width="20"/>
</g>
<use href="#wmA" stroke="#26201c" stroke-width="22" stroke-dasharray="5 11"/>
<!-- clitellum -->
<path d="M240,160 C262,156 288,162 305,172" stroke="#15100c" stroke-width="46" stroke-linecap="round"/>
<path d="M240,160 C262,156 288,162 305,172" stroke="#f8f8f8" stroke-width="35" stroke-linecap="round"/>
<!-- dark tail -->
<path d="M120,402 C98,412 80,424 62,436" stroke="#221a16" stroke-width="18" stroke-linecap="round"/>
<path d="M120,402 C98,412 80,424 66,433" stroke="#d8d8d8" stroke-width="10" stroke-dasharray="5 9"/>
</g>

<!-- mushroom : zoom origin (560,590) scale 1/3.529 -->
<g id="mushroom" transform="translate(560,590) scale(0.28333)" stroke-linejoin="round" stroke-linecap="round">
<path d="M768,240 C760,280 745,320 735,350 C728,370 728,385 735,392 C755,396 778,394 790,388 C795,360 800,320 802,290 C803,270 806,252 812,240 Z" fill="#f7f7f7" stroke="#2a211c" stroke-width="7"/>
<path d="M764,262 C774,272 792,273 804,264 L806,248 L768,246 Z" fill="#9c9c9c" opacity="0.7"/>
<path d="M722,380 L712,392 M740,392 L735,402 M760,394 L760,404 M780,392 L786,400" stroke="#2a211c" stroke-width="5" fill="none"/>
<path d="M675,238 C672,215 700,185 740,172 C775,162 820,165 850,182 C875,198 890,222 885,240 C870,250 850,248 835,240 C800,232 760,234 730,245 C712,256 688,258 675,238 Z" fill="#f7f7f7" stroke="#2a211c" stroke-width="7"/>
<path d="M695,205 C725,176 790,164 842,180 C862,190 874,205 880,220 C850,204 820,198 790,204 C760,196 728,202 695,205 Z" fill="#2e2e30" opacity="0.9"/>
<path d="M705,215 C740,200 770,200 795,210 C825,205 855,212 878,228" fill="none" stroke="#77777a" stroke-width="7"/>
<path d="M720,205 C745,200 765,205 780,215 M800,205 C825,205 850,215 868,228" stroke="#9a9a9a" stroke-width="6" fill="none"/>
<circle cx="700" cy="240" r="6" fill="#999"/><circle cx="862" cy="236" r="6" fill="#999"/>
</g>

<g font-family="'Liberation Sans', sans-serif" font-weight="bold" font-size="25.1" fill="#7a5d47" stroke="#7a5d47" stroke-width="0.35" opacity="0.999">
<text x="337.0" y="192.7" textLength="121.7" lengthAdjust="spacingAndGlyphs">TERTIARY</text>
<text x="320.3" y="222.4" textLength="155.1" lengthAdjust="spacingAndGlyphs">CONSUMERS</text>
<text x="274.4" y="317.4" textLength="152.1" lengthAdjust="spacingAndGlyphs">SECONDARY</text>
<text x="273.6" y="347.0" textLength="154.3" lengthAdjust="spacingAndGlyphs">CONSUMERS</text>
<text x="226.0" y="421.4" textLength="110.1" lengthAdjust="spacingAndGlyphs">PRIMARY</text>
<text x="204.3" y="451.1" textLength="153.8" lengthAdjust="spacingAndGlyphs">CONSUMERS</text>
<text x="146.0" y="549.0" textLength="150.0" lengthAdjust="spacingAndGlyphs">PRODUCERS</text>
<text x="105.0" y="674.2" textLength="184.0" lengthAdjust="spacingAndGlyphs">DECOMPOSERS</text>
</g>
<g font-family="'Liberation Sans', sans-serif" font-size="22.8" fill="#5f4c41" stroke="#ffffff" stroke-width="0.3" opacity="0.999">
<text x="759.3" y="190.2" textLength="315.9" lengthAdjust="spacingAndGlyphs">OFTEN REFERRED TO AS APEX</text>
<text x="728.3" y="216.0" textLength="379.2" lengthAdjust="spacingAndGlyphs">PREDATORS, TERTIARY CONSUMERS</text>
<text x="734.0" y="242.0" textLength="367.6" lengthAdjust="spacingAndGlyphs">FEED ON SECONDARY CONSUMERS</text>
<text x="782.4" y="296.6" textLength="317.8" lengthAdjust="spacingAndGlyphs">SECONDARY CONSUMERS ARE</text>
<text x="792.3" y="322.7" textLength="297.6" lengthAdjust="spacingAndGlyphs">CARNIVORES THAT FEED ON</text>
<text x="823.5" y="348.6" textLength="235.2" lengthAdjust="spacingAndGlyphs">PRIMARY CONSUMERS</text>
<text x="856.8" y="403.2" textLength="282.0" lengthAdjust="spacingAndGlyphs">PRIMARY CONSUMERS ARE</text>
<text x="848.2" y="429.2" textLength="299.2" lengthAdjust="spacingAndGlyphs">ORGANISMS THAT DIRECTLY</text>
<text x="884.3" y="455.1" textLength="227.6" lengthAdjust="spacingAndGlyphs">FEED ON PRODUCERS</text>
<text x="920.1" y="509.9" textLength="204.5" lengthAdjust="spacingAndGlyphs">THEY PROVIDE THE</text>
<text x="884.7" y="535.9" textLength="276.9" lengthAdjust="spacingAndGlyphs">PRIMARY ENERGY SOURCE</text>
<text x="912.8" y="562.2" textLength="221.3" lengthAdjust="spacingAndGlyphs">FOR THE ECOSYSTEM</text>
<text x="940.7" y="617.2" textLength="207.7" lengthAdjust="spacingAndGlyphs">THEY BREAK DOWN</text>
<text x="915.1" y="643.3" textLength="259.7" lengthAdjust="spacingAndGlyphs">DEAD ORGANIC MATTER,</text>
<text x="947.5" y="669.1" textLength="193.5" lengthAdjust="spacingAndGlyphs">RETURNING VITAL</text>
<text x="941.5" y="694.7" textLength="206.9" lengthAdjust="spacingAndGlyphs">NUTRIENTS TO THE</text>
<text x="978.3" y="720.8" textLength="126.1" lengthAdjust="spacingAndGlyphs">ECOSYSTEM</text>
</g>
<!-- logo -->
<g id="logo">
<g transform="translate(975,730) scale(0.15833)">
<g clip-path="url(#leafC)">
<g clip-path="url(#leafL)"><rect x="60" y="40" width="110" height="250" fill="#86d3f4"/>
<path d="M60,170 L160,118 L160,160 L60,212 Z" fill="#b2e4f9"/>
<path d="M60,255 L160,205 L160,245 L60,295 Z" fill="#b2e4f9"/>
<g stroke="#fff" stroke-width="5"><path d="M60,170 L160,118 M60,212 L160,160 M60,255 L160,205"/></g>
</g>
<g clip-path="url(#leafR)"><rect x="150" y="40" width="110" height="250" fill="#22b12f"/>
<path d="M160,118 L262,170 L262,212 L160,160 Z" fill="#45c84a"/>
<path d="M160,205 L262,255 L262,295 L160,245 Z" fill="#45c84a"/>
<g stroke="#fff" stroke-width="5"><path d="M160,118 L262,170 M160,160 L262,212 M160,205 L262,255"/></g>
</g>
</g>
</g>
<text x="1016.5" y="766.9" font-family="'Liberation Sans', sans-serif" font-size="26.6" fill="#3f3027" opacity="0.999" textLength="135.8" lengthAdjust="spacingAndGlyphs" stroke="#fff" stroke-width="0.5">thedailyECO</text>
</g>

</svg>
</body></html>
